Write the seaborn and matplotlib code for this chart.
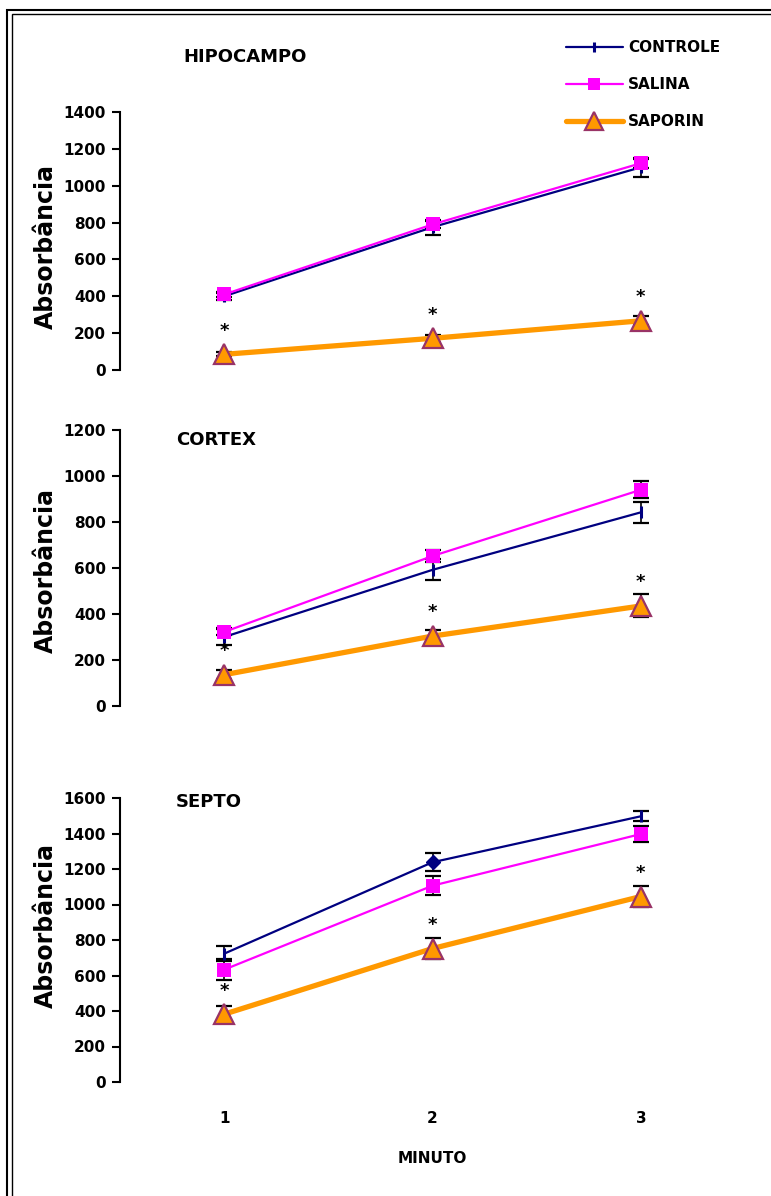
import numpy as np
import pandas as pd
import seaborn as sns
import matplotlib
matplotlib.use("Agg")
import matplotlib.pyplot as plt
from matplotlib.lines import Line2D
from matplotlib.patches import Rectangle

# ---- data -------------------------------------------------------------
minutes = [1, 2, 3]
groups = ["CONTROLE", "SALINA", "SAPORIN"]
regions = ["HIPOCAMPO", "CORTEX", "SEPTO"]

hipocampo_controle = [400, 775, 1100]
hipocampo_controle_err = [20, 40, 50]
hipocampo_salina = [410, 790, 1122]
hipocampo_salina_err = [15, 20, 25]
hipocampo_saporin = [85, 172, 267]
hipocampo_saporin_err = [10, 20, 25]

cortex_controle = [300, 592, 842]
cortex_controle_err = [35, 45, 45]
cortex_salina = [322, 652, 940]
cortex_salina_err = [15, 25, 37]
cortex_saporin = [136, 304, 435]
cortex_saporin_err = [20, 28, 50]

septo_controle = [723, 1238, 1497]
septo_controle_err = [42, 50, 28]
septo_salina = [633, 1106, 1397]
septo_salina_err = [60, 55, 47]
septo_saporin = [382, 752, 1045]
septo_saporin_err = [45, 60, 60]

y_limits = [1400, 1200, 1600]
y_steps = [200, 200, 200]

# ---- styling ----------------------------------------------------------
sns.set_theme(style="white")
plt.rcParams["font.family"] = ["DejaVu Sans"]
plt.rcParams["font.weight"] = "bold"
plt.rcParams["text.color"] = "black"
plt.rcParams["axes.labelcolor"] = "black"

NAVY = "#000080"
MAGENTA = "#FF00FF"
ORANGE = "#FF9900"
PURPLE = "#993366"

styles = {
    "CONTROLE": dict(color=NAVY, lw=1.6, marker="|", ms=8, mew=2.2,
                     mfc=NAVY, mec=NAVY),
    "SALINA": dict(color=MAGENTA, lw=1.6, marker="s", ms=10, mew=0,
                   mfc=MAGENTA, mec=MAGENTA),
    "SAPORIN": dict(color=ORANGE, lw=3.8, marker="^", ms=15, mew=1.6,
                    mfc=ORANGE, mec=PURPLE),
}

records = []
tables = {
    "HIPOCAMPO": [(hipocampo_controle, hipocampo_controle_err),
                  (hipocampo_salina, hipocampo_salina_err),
                  (hipocampo_saporin, hipocampo_saporin_err)],
    "CORTEX": [(cortex_controle, cortex_controle_err),
               (cortex_salina, cortex_salina_err),
               (cortex_saporin, cortex_saporin_err)],
    "SEPTO": [(septo_controle, septo_controle_err),
              (septo_salina, septo_salina_err),
              (septo_saporin, septo_saporin_err)],
}
for reg in regions:
    for grp, (vals, errs) in zip(groups, tables[reg]):
        for m, v, e in zip(minutes, vals, errs):
            records.append(dict(regiao=reg, grupo=grp, minuto=m,
                                absorbancia=v, erro=e))
df = pd.DataFrame(records)

W, H = 771, 1196
fig = plt.figure(figsize=(W / 100, H / 100), dpi=100)

# panel boxes in pixels: (top, bottom) of the y axis
left_px, right_px = 120, 745
boxes = [(112, 370), (430, 706), (798, 1082)]
title_pos = [(183, 57), (176, 440), (176, 802)]
ylabel_frac = [0.48, 0.49, 0.55]

axes = []
for i, reg in enumerate(regions):
    top, bot = boxes[i]
    ax = fig.add_axes([left_px / W, 1 - bot / H,
                       (right_px - left_px) / W, (bot - top) / H])
    axes.append(ax)
    sub = df[df.regiao == reg]

    for grp in groups:
        g = sub[sub.grupo == grp]
        ax.errorbar(g.minuto, g.absorbancia, yerr=g.erro, fmt="none",
                    ecolor="black", elinewidth=1.2, capsize=5.5,
                    capthick=1.6, zorder=1)
    for grp in groups:
        g = sub[sub.grupo == grp]
        st = styles[grp]
        sns.lineplot(data=g, x="minuto", y="absorbancia", ax=ax,
                     color=st["color"], linewidth=st["lw"],
                     marker=st["marker"], markersize=st["ms"],
                     markeredgewidth=st["mew"], markerfacecolor=st["mfc"],
                     markeredgecolor=st["mec"], errorbar=None, legend=False,
                     zorder=3 if grp == "SAPORIN" else 2)

    if reg == "SEPTO":
        g = sub[sub.grupo == "CONTROLE"]
        ax.plot(g.minuto.iloc[1], g.absorbancia.iloc[1], marker="D",
                ms=7, color=NAVY, zorder=4)

    # significance marks above SAPORIN
    g = sub[sub.grupo == "SAPORIN"]
    for m, v in zip(g.minuto, g.absorbancia):
        ax.annotate("*", (m, v), xytext=(0, 17), textcoords="offset points",
                    ha="center", va="center", fontsize=13,
                    fontweight="bold", color="black")

    ax.set_xlim(0.5, 3.5)
    ax.set_ylim(0, y_limits[i])
    ax.set_yticks(np.arange(0, y_limits[i] + 1, y_steps[i]))
    for s in ["top", "right", "bottom"]:
        ax.spines[s].set_visible(False)
    ax.spines["left"].set_linewidth(1.5)
    ax.spines["left"].set_color("black")
    ax.tick_params(axis="y", left=True, direction="out", length=6,
                   width=1.5, pad=4, labelsize=11, colors="black")
    ax.set_ylabel("Absorbância", fontsize=17, fontweight="bold",
                  va="center", color="black")
    ax.yaxis.set_label_coords(-0.118, ylabel_frac[i])
    ax.set_facecolor("none")

    if reg == "SEPTO":
        ax.set_xticks(minutes)
        ax.set_xticklabels([str(m) for m in minutes])
        ax.tick_params(axis="x", bottom=False, labelsize=11, pad=15,
                       colors="black")
        ax.set_xlabel("MINUTO", fontsize=11, fontweight="bold",
                      labelpad=18, color="black")
    else:
        ax.set_xticks([])
        ax.set_xlabel("")

    tx, ty = title_pos[i]
    fig.text(tx / W, 1 - ty / H, reg, fontsize=13, fontweight="bold",
             ha="left", va="center", color="black")

# legend
handles = [Line2D([], [], color=styles[g]["color"], lw=styles[g]["lw"],
                  marker=styles[g]["marker"], ms=styles[g]["ms"] * 0.85,
                  mew=styles[g]["mew"], mfc=styles[g]["mfc"],
                  mec=styles[g]["mec"]) for g in groups]
fig.legend(handles, groups, loc="upper left",
           bbox_to_anchor=(566 / W, 1 - 40 / H), frameon=False,
           handlelength=3.7, handletextpad=0.35,
           labelspacing=1.45, borderpad=0, borderaxespad=0,
           labelcolor="black", prop=dict(weight="bold", size=11))

# double frame around the figure
fig.patches.append(Rectangle((7 / W, -0.1), 2, 1.1 - 10 / H,
                             transform=fig.transFigure, fill=False,
                             lw=1.5, ec="black"))
fig.patches.append(Rectangle((12 / W, -0.1), 2, 1.1 - 14 / H,
                             transform=fig.transFigure, fill=False,
                             lw=1.0, ec="black"))

fig.savefig("out.png", dpi=100, facecolor="white")
